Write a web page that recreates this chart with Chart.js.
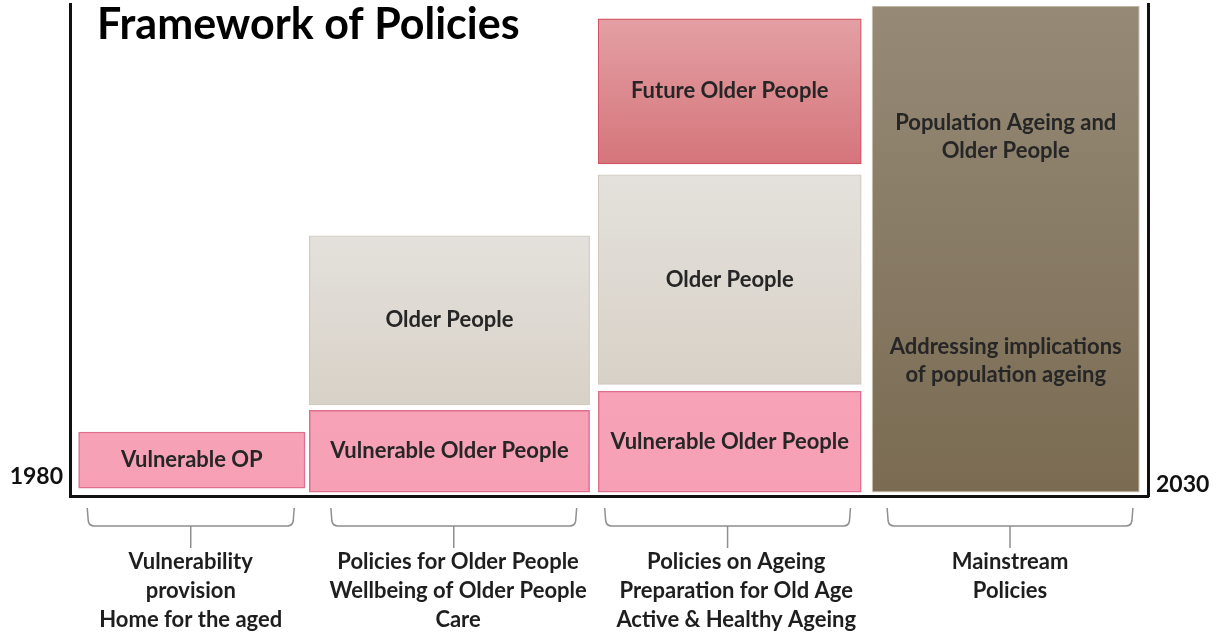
<!DOCTYPE html>
<html>
<head>
<meta charset="utf-8">
<title>Framework of Policies</title>
<script src="https://cdn.jsdelivr.net/npm/chart.js@4.4.1/dist/chart.umd.min.js"></script>
<style>
  html, body { margin: 0; padding: 0; background: #fff; }
  canvas { display: block; }
</style>
</head>
<body>
<canvas id="policyChart" width="1220" height="641"></canvas>
<script>
// years covered by each policy phase (box edges) and by the brace under it
const phaseStart = [1980.4, 1991.1, 2004.5, 2017.2];
const phaseEnd   = [1990.9, 2004.1, 2016.7, 2029.6];
const braceStart = [1980.8, 1992.1, 2004.8, 2017.9];
const braceEnd   = [1990.4, 2003.5, 2016.2, 2029.3];
// where the phase captions under the braces are centred
const captionAt  = [1985.6, 1998.0, 2010.9, 2023.6];

// box levels on a 0-100 scale, null where a phase has no such box
const vulnerableLow  = [1.6, 0.8, 0.8, null];
const vulnerableHigh = [13.0, 17.4, 21.3, null];
const olderLow   = [null, 18.5, 22.7, null];
const olderHigh  = [null, 52.9, 65.3, null];
const futureLow  = [null, null, 67.5, null];
const futureHigh = [null, null, 97.0, null];
const mainLow    = [null, null, null, 0.8];
const mainHigh   = [null, null, null, 99.6];

const vulnerableText = ['Vulnerable OP', 'Vulnerable Older People', 'Vulnerable Older People', null];
const olderText  = [null, 'Older People', 'Older People', null];
const futureText = [null, null, 'Future Older People', null];
const mainText   = [null, null, null, ['Population Ageing and', 'Older People', '', '', '', '', '', '', 'Addressing implications', 'of population ageing']];

const phaseLabels = [
    ['Vulnerability', 'provision', 'Home for the aged'],
    ['Policies for Older People', 'Wellbeing of Older People', 'Care'],
    ['Policies on Ageing', 'Preparation for Old Age', 'Active & Healthy Ageing'],
    ['Mainstream', 'Policies']
];
const startYear = 1980;
const endYear = 2030;

// look of each layer of boxes
const layers = [
    { low: vulnerableLow, high: vulnerableHigh, text: vulnerableText, fill: ['#F7A2B7', '#F7A0B5'], border: '#DE6F8D' },
    { low: olderLow, high: olderHigh, text: olderText, fill: ['#E4E1DC', '#D8D1C7'], border: '#CFC9BE' },
    { low: futureLow, high: futureHigh, text: futureText, fill: ['#E3A0A4', '#D5757B'], border: '#D3525F' },
    { low: mainLow, high: mainHigh, text: mainText, fill: ['#968A77', '#7A6B52'], border: '#CBC3B5' }
];

function boxFill(ctx) {
    const p = ctx.raw;
    if (!p) return '#ccc';
    const st = layers[p.layer];
    const y = ctx.chart.scales.y;
    const top = y.getPixelForValue(p.y[1]);
    const bottom = y.getPixelForValue(p.y[0]);
    if (!isFinite(top) || !isFinite(bottom)) return st.fill[0];
    const g = ctx.chart.ctx.createLinearGradient(0, top, 0, bottom);
    g.addColorStop(0, st.fill[0]);
    g.addColorStop(1, st.fill[1]);
    return g;
}

// one dataset per phase, so every phase gets its own box width
const datasets = phaseStart.map((s, i) => ({
    label: phaseLabels[i].join(' '),
    data: layers
        .map((l, k) => l.low[i] == null ? null : { x: (s + phaseEnd[i]) / 2, y: [l.low[i], l.high[i]], layer: k, text: l.text[i] })
        .filter(p => p),
    barThickness: ctx => {
        const x = ctx.chart.scales.x;
        return x.getPixelForValue(phaseEnd[i]) - x.getPixelForValue(s);
    },
    grouped: false,
    borderSkipped: false,
    borderWidth: ctx => ctx.raw && ctx.raw.layer === 0 ? 1.5 : 1.2,
    backgroundColor: boxFill,
    borderColor: ctx => ctx.raw ? layers[ctx.raw.layer].border : '#999'
}));

// text inside the boxes
const boxText = {
    id: 'boxText',
    afterDatasetsDraw(chart) {
        const c = chart.ctx;
        c.save();
        c.font = 'bold 22px Lato';
        c.fillStyle = '#262626';
        c.textAlign = 'center';
        c.textBaseline = 'middle';
        chart.data.datasets.forEach((ds, di) => {
            chart.getDatasetMeta(di).data.forEach((bar, j) => {
                const t = ds.data[j].text;
                if (!t) return;
                const lines = [].concat(t);
                const mid = (bar.y + bar.base) / 2;
                lines.forEach((ln, k) => c.fillText(ln, bar.x, mid + (k - (lines.length - 1) / 2) * 28));
            });
        });
        c.restore();
    }
};

// title, end years and the braces under the axis
const frame = {
    id: 'frame',
    afterDraw(chart) {
        const c = chart.ctx;
        const area = chart.chartArea;
        const x = chart.scales.x;
        c.save();
        c.fillStyle = '#000';
        c.textBaseline = 'middle';
        c.font = 'bold 43px Lato';
        c.textAlign = 'left';
        c.fillText('Framework of Policies', 97, 25);

        c.fillStyle = '#111';
        c.font = 'bold 23px Lato';
        c.textAlign = 'right';
        c.fillText(String(startYear), area.left - 7, area.bottom - 19);
        c.textAlign = 'left';
        c.fillText(String(endYear), area.right + 8, area.bottom - 11);

        c.strokeStyle = '#8f8f8f';
        c.lineWidth = 1.5;
        const top = area.bottom + 12, mid = area.bottom + 30, tip = area.bottom + 52;
        braceStart.forEach((s, i) => {
            const xl = x.getPixelForValue(s);
            const xr = x.getPixelForValue(braceEnd[i]);
            const cx = (xl + xr) / 2;
            c.beginPath();
            c.moveTo(xl, top);
            c.lineTo(xl + 1, mid - 5);
            c.quadraticCurveTo(xl + 2, mid, xl + 7, mid);
            c.lineTo(xr - 7, mid);
            c.quadraticCurveTo(xr - 2, mid, xr - 1, mid - 5);
            c.lineTo(xr, top);
            c.moveTo(cx, mid);
            c.lineTo(cx, tip);
            c.stroke();
        });
        c.restore();
    }
};

const axisLine = { display: true, color: '#111', width: 3 };

new Chart(document.getElementById('policyChart'), {
    type: 'bar',
    data: { datasets: datasets },
    options: {
        responsive: false,
        devicePixelRatio: 1,
        animation: false,
        layout: { padding: { left: 70, right: 72, top: 4, bottom: 7 } },
        plugins: {
            legend: { display: false },
            tooltip: { enabled: false }
        },
        scales: {
            x: {
                type: 'linear',
                min: startYear,
                max: endYear,
                offset: false,
                grid: { display: false, drawTicks: false },
                border: axisLine,
                afterBuildTicks: axis => {
                    axis.ticks = captionAt.map(v => ({ value: v }));
                },
                afterFit: axis => { axis.height = 138; },
                ticks: {
                    autoSkip: false,
                    maxRotation: 0,
                    padding: 52,
                    color: '#1e1e1e',
                    font: { family: 'Lato', size: 22, weight: 'bold', lineHeight: 1.3 },
                    callback: (v, i) => phaseLabels[i]
                }
            },
            y: {
                min: 0,
                max: 100,
                grid: { display: false, drawTicks: false },
                ticks: { display: false },
                border: axisLine
            },
            y2: {
                position: 'right',
                min: 0,
                max: 100,
                grid: { display: false, drawTicks: false },
                ticks: { display: false },
                border: axisLine
            }
        }
    },
    plugins: [boxText, frame]
});
</script>
</body>
</html>
